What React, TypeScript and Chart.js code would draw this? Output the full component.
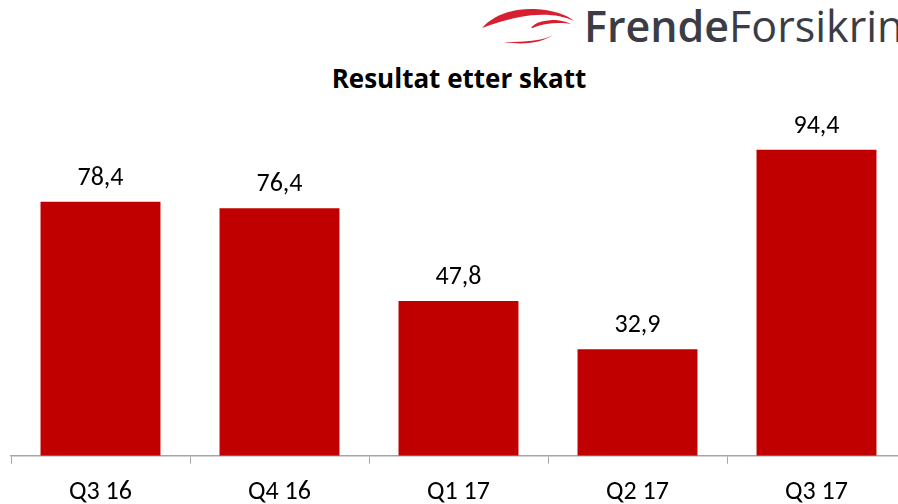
import React, { useEffect, useRef } from "react";
import { Chart, registerables } from "chart.js";
Chart.register(...registerables);

const categories = ["Q3 16", "Q4 16", "Q1 17", "Q2 17", "Q3 17"];
const values = [78.4, 76.4, 47.8, 32.9, 94.4];
const chartTitle = "Resultat etter skatt";
const logoBold = "Frende";
const logoRegular = "Forsikring";

const FONT = "Carlito, Calibri, Lato, sans-serif";

export default function App() {
  const ref = useRef<HTMLCanvasElement>(null);

  useEffect(() => {
    const labelPlugin = {
      id: "valueLabels",
      afterDatasetsDraw(chart: any) {
        const { ctx } = chart;
        const meta = chart.getDatasetMeta(0);
        ctx.save();
        ctx.font = `26px ${FONT}`;
        ctx.fillStyle = "#000";
        ctx.textAlign = "center";
        ctx.textBaseline = "alphabetic";
        meta.data.forEach((el: any, i: number) => {
          ctx.fillText(values[i].toFixed(1).replace(".", ","), el.x, el.y - 17);
        });
        ctx.restore();
      },
    };
    const chart = new Chart(ref.current as HTMLCanvasElement, {
      type: "bar",
      data: {
        labels: categories,
        datasets: [
          {
            data: values,
            backgroundColor: "#C00000",
            barPercentage: 0.67,
            categoryPercentage: 1,
          },
        ],
      },
      options: {
        animation: false,
        responsive: false,
        layout: { padding: { left: 11, right: 14, top: 131.7, bottom: 0 } },
        plugins: {
          legend: { display: false },
          tooltip: { enabled: false },
          title: { display: false },
        },
        scales: {
          x: {
            grid: {
              display: true,
              drawOnChartArea: false,
              drawTicks: true,
              tickLength: 8,
              color: "#A6A6A6",
              offset: true,
            },
            border: { display: true, color: "#A6A6A6", width: 1.5 },
            ticks: { color: "#000", font: { family: FONT, size: 26 }, padding: 13 },
          },
          y: { display: false, min: 0, max: 100 },
        },
      },
      plugins: [labelPlugin],
    } as any);
    return () => chart.destroy();
  }, []);

  return (
    <div
      style={{
        position: "fixed",
        left: 0,
        top: 0,
        width: 898,
        height: 504,
        overflow: "hidden",
        background: "#fff",
      }}
    >
      <svg
        width={898}
        height={60}
        style={{ position: "absolute", left: 0, top: 0 }}
        viewBox="0 0 898 60"
      >
        <path d="M482,28 C495,14 515,8 535,9 C552,10 566,14 574,21 C560,14 540,13 520,17 C505,20 492,24 482,28 Z" fill="#D7202F" />
        <path d="M531,28 C535,22 545,20 556,20 C563,21 568,22 571,24 C560,22 545,23 535,27 C533,28 532,28 531,28 Z" fill="#D7202F" />
        <path d="M504,42 C515,44 530,44 540,41 C546,39 550,37 553,35 C548,38 540,40 530,41 C520,42 510,42 504,42 Z" fill="#D7202F" />
      </svg>
      <div
        style={{
          position: "absolute",
          left: 584,
          top: 4,
          fontFamily: "'Open Sans', sans-serif",
          fontSize: 43,
          lineHeight: "43px",
          color: "#3b3c45",
          whiteSpace: "nowrap",
        }}
      >
        <span style={{ fontWeight: 600 }}>{logoBold}</span>
        <span style={{ fontWeight: 400 }}>{logoRegular}</span>
      </div>
      <div
        style={{
          position: "absolute",
          left: 0,
          width: 918,
          top: 63,
          textAlign: "center",
          fontFamily: "'Open Sans', sans-serif",
          fontWeight: 700,
          fontSize: 26,
          lineHeight: "30px",
          color: "#000",
        }}
      >
        {chartTitle}
      </div>
      <canvas
        ref={ref}
        width={920}
        height={521}
        style={{ position: "absolute", left: 0, top: 0 }}
      />
    </div>
  );
}
